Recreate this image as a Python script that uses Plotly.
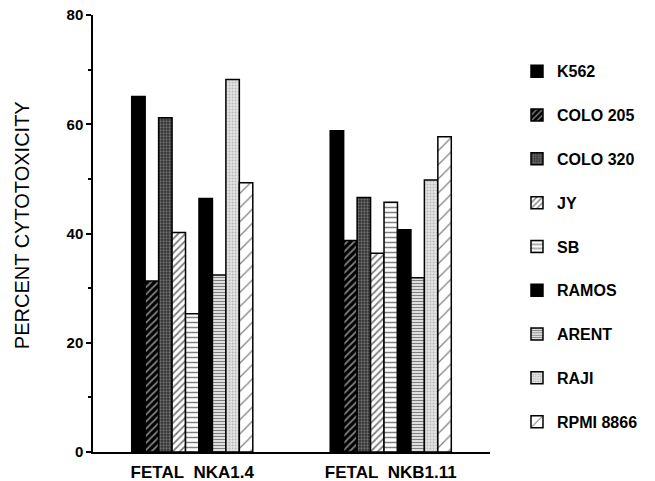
import plotly.graph_objects as go

groups = ["FETAL\u00a0\u00a0NKA1.4", "FETAL\u00a0\u00a0NKB1.11"]
cell_lines = ["K562", "COLO 205", "COLO 320", "JY", "SB", "RAMOS", "ARENT", "RAJI", "RPMI 8866"]
k562 = [65.1, 58.8]
colo205 = [31.3, 38.7]
colo320 = [61.2, 46.6]
jy = [40.2, 36.4]
sb = [25.3, 45.7]
ramos = [46.4, 40.7]
arent = [32.4, 31.9]
raji = [68.2, 49.8]
rpmi8866 = [49.3, 57.7]
values = [k562, colo205, colo320, jy, sb, ramos, arent, raji, rpmi8866]
y_ticks = [0, 20, 40, 60, 80]
y_title = "PERCENT CYTOTOXICITY"

patterns = [
    dict(shape=""),
    dict(shape="/", bgcolor="black", fgcolor="white", size=5, solidity=0.35),
    dict(shape=".", bgcolor="#303030", fgcolor="#b0b0b0", size=3, solidity=0.45),
    dict(shape="/", bgcolor="white", fgcolor="black", size=5, solidity=0.35),
    dict(shape="-", bgcolor="white", fgcolor="black", size=5, solidity=0.3),
    dict(shape=""),
    dict(shape="-", bgcolor="white", fgcolor="black", size=3, solidity=0.5),
    dict(shape=".", bgcolor="#e4e4e4", fgcolor="#888888", size=3, solidity=0.3),
    dict(shape="/", bgcolor="white", fgcolor="black", size=10, solidity=0.12),
]
colors = ["black", "black", "#303030", "white", "white", "black", "white", "#e4e4e4", "white"]

fig = go.Figure()
for i, (name, vals) in enumerate(zip(cell_lines, values)):
    fig.add_trace(go.Bar(
        x=groups, y=vals, name=name, legendgroup=name,
        marker=dict(color=colors[i], line=dict(color="black", width=1.5),
                    pattern=patterns[i]),
    ))

fig.add_annotation(
    text=y_title, xref="paper", yref="paper", x=-0.179, y=0.519,
    textangle=-90, showarrow=False, font=dict(size=20),
    xanchor="center", yanchor="middle",
)

fig.update_layout(
    width=655, height=481,
    margin=dict(l=93, r=165, t=15, b=29, autoexpand=False),
    plot_bgcolor="white", paper_bgcolor="white",
    barmode="group", bargap=0.39, bargroupgap=0,
    font=dict(family="Liberation Sans, Arial, sans-serif", color="black"),
    showlegend=True,
    legend=dict(
        x=1.068, xanchor="left", y=0.91, yanchor="top",
        font=dict(size=16, family="Liberation Sans, Arial, sans-serif", weight="bold"),
        tracegroupgap=20, bgcolor="rgba(0,0,0,0)",
    ),
    xaxis=dict(
        range=[-0.5, 1.5], showline=True, linecolor="black", linewidth=1.5,
        ticks="", showgrid=False, zeroline=False, automargin=False,
        tickfont=dict(size=17, weight="bold"), ticklabelstandoff=4,
    ),
    yaxis=dict(
        range=[0, 80], tickvals=y_ticks, showline=True, linecolor="black", linewidth=1.5,
        ticks="outside", ticklen=5, tickwidth=1.5, tickcolor="black",
        minor=dict(tickvals=[10, 30, 50, 70], ticks="outside", ticklen=3, tickcolor="black"),
        showgrid=False, zeroline=False, automargin=False,
        tickfont=dict(size=15, weight="bold"),
    ),
)

fig.write_html("out.html", config={"displayModeBar": False},
               post_script="document.body.style.margin='0';")
